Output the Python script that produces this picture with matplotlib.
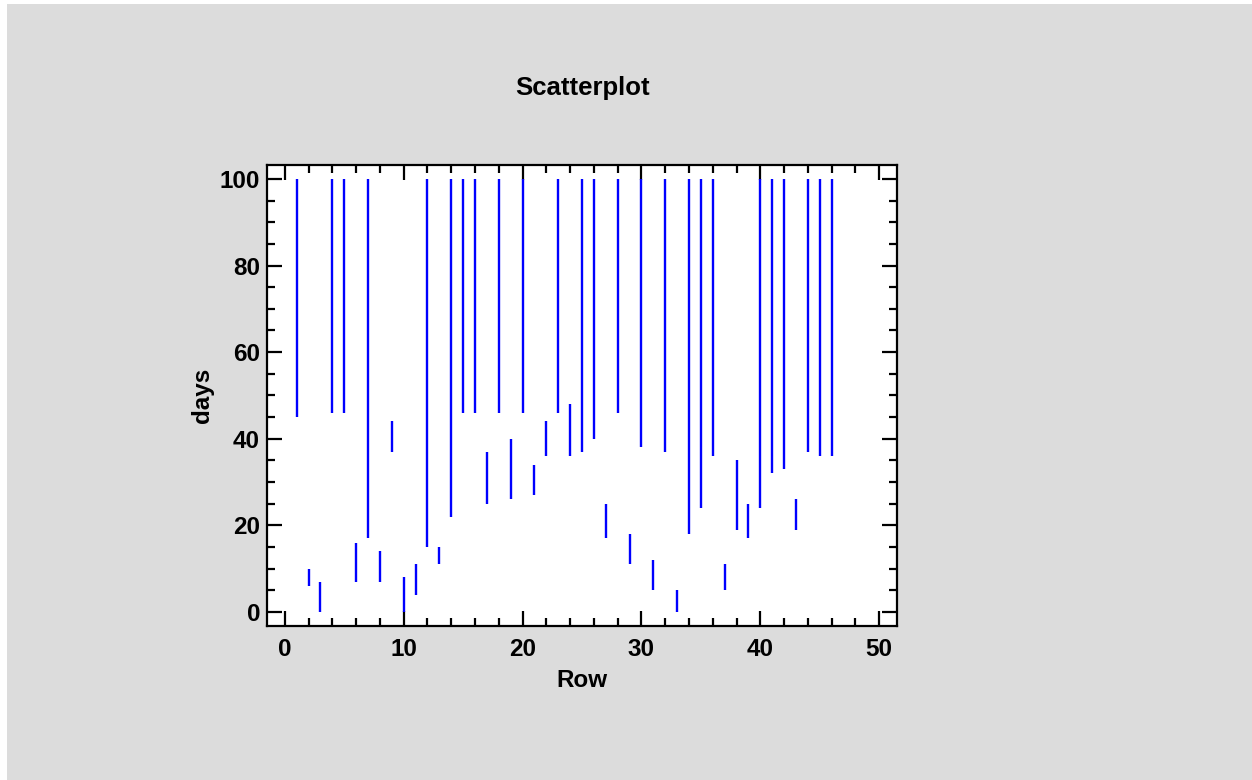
import numpy as np
import matplotlib
matplotlib.use("Agg")
import matplotlib.pyplot as plt
from matplotlib.ticker import MultipleLocator
from matplotlib.patches import Rectangle

# Datos: intervalo (inicio, fin) de cada fila
filas = np.arange(1, 47)
inicio = [45, 6, 0, 46, 46, 7, 17, 7, 37, 0, 4, 15, 11, 22, 46, 46, 25, 46, 26, 46,
          27, 36, 46, 36, 37, 40, 17, 46, 11, 38, 5, 37, 0, 18, 24, 36, 5, 19, 17, 24,
          32, 33, 19, 37, 36, 36]
fin = [100, 10, 7, 100, 100, 16, 100, 14, 44, 8, 11, 100, 15, 100, 100, 100, 37, 100, 40, 100,
       34, 44, 100, 48, 100, 100, 25, 100, 18, 100, 12, 100, 5, 100, 100, 100, 11, 35, 25, 100,
       100, 100, 26, 100, 100, 100]

plt.rcParams['font.family'] = ['Liberation Sans', 'DejaVu Sans']
plt.rcParams['font.weight'] = 'bold'

gris = '#dcdcdc'
fig = plt.figure(figsize=(12.52, 7.8), dpi=100)
fig.patch.set_facecolor('white')
# fondo gris (borde blanco fino arriba/izquierda)
fig.patches.append(Rectangle((7 / 1252, 0), 1, 1 - 4 / 780, transform=fig.transFigure,
                             facecolor=gris, edgecolor='none', zorder=-10))

ax = fig.add_axes([267 / 1252, 1 - 625.5 / 780, 630 / 1252, 460.5 / 780])
ax.set_facecolor('white')

ax.vlines(filas, inicio, fin, colors='#0000ff', linewidth=1.7)

ax.set_xlim(-1.5, 51.5)
ax.set_ylim(-3.1, 103.2)
ax.xaxis.set_major_locator(MultipleLocator(10))
ax.xaxis.set_minor_locator(MultipleLocator(2))
ax.yaxis.set_major_locator(MultipleLocator(20))
ax.yaxis.set_minor_locator(MultipleLocator(5))
ax.tick_params(which='both', direction='in', top=True, right=True, width=1.6,
               labelsize=17.5, colors='black')
ax.tick_params(which='major', length=11)
ax.tick_params(which='minor', length=6)
ax.tick_params(axis='x', which='major', pad=9)
ax.tick_params(axis='y', which='major', pad=5)
for lab in ax.get_xticklabels() + ax.get_yticklabels():
    lab.set_fontweight('bold')
for s in ax.spines.values():
    s.set_linewidth(1.6)

ax.set_xlabel('Row', fontsize=17.5, fontweight='bold', labelpad=6)
ax.set_ylabel('days', fontsize=17.5, fontweight='bold', labelpad=4)
fig.text(583 / 1252, 1 - 88 / 780, 'Scatterplot', ha='center', va='center',
         fontsize=18.5, fontweight='bold')

fig.savefig('out.png', dpi=100, facecolor=fig.get_facecolor())
